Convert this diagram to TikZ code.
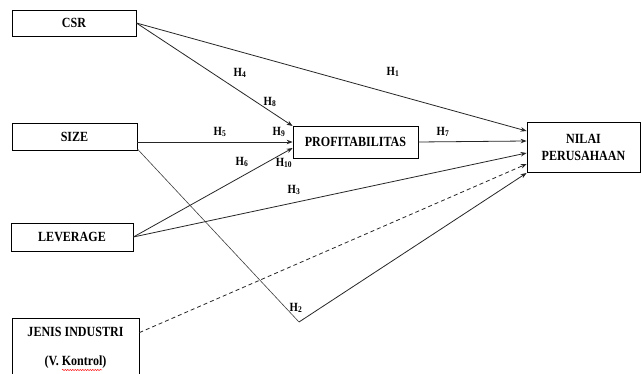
\documentclass[tikz,border=0pt]{standalone}
\usepackage{fontspec}
\setmainfont{Liberation Serif}
\newfontfamily\condfont[FakeStretch=0.86]{Liberation Serif}
\usetikzlibrary{arrows.meta,decorations.pathmorphing}
\begin{document}
\begin{tikzpicture}[x=1pt,y=-1pt,
  box/.style={draw, line width=0.8pt, inner sep=0pt, align=center,
    font=\condfont\fontsize{14}{20}\selectfont\bfseries},
  txt/.style={font=\condfont\fontsize{14}{16}\selectfont\bfseries, inner sep=0pt},
  con/.style={line width=0.8pt, draw=black!85, -{Stealth[length=6pt,width=4.5pt]}},
  hlab/.style={font=\condfont\fontsize{12.5}{13}\selectfont\bfseries, inner sep=0pt}]
\useasboundingbox (0,0) rectangle (641,374);
\clip (0,0) rectangle (641,374);
\fill[white] (0,0) rectangle (641,374);
% boxes
\node[box, minimum width=124pt, minimum height=26pt] (csr) at (74,23) {CSR};
\node[box, minimum width=125pt, minimum height=27pt] (size) at (74.5,136.5) {SIZE};
\node[box, minimum width=122pt, minimum height=28pt] (lev) at (72,237) {LEVERAGE};
\node[box, minimum width=125pt, minimum height=32pt] (prof) at (355.5,142) {PROFITABILITAS};
\node[box, minimum width=113pt, minimum height=50pt, font=\condfont\fontsize{14}{17}\selectfont\bfseries] (nilai) at (583.5,147) {NILAI\\PERUSAHAAN};
\node[box, minimum width=127pt, minimum height=80pt] (jenis) at (75.5,358) {};
\node[txt] (jt1) at (75.5,332) {JENIS INDUSTRI};
\node[txt] (jt2) at (75.5,362) {(V. Kontrol)};
\draw[red, line width=0.5pt, decorate, decoration={snake, amplitude=0.6pt, segment length=2.5pt}]
  (62,370) -- (102,370);
% coordinates
\coordinate (v) at (299,322);
\coordinate (s2) at ([yshift=-7pt]size.east |- prof.west);
% connectors
\draw[con] (csr.east) -- ([yshift=16pt]nilai.west);
\draw[con] (csr.east) -- ([yshift=16pt]prof.west);
\draw[con] (size.east |- prof.west) -- (prof.west);
\draw[con] (lev.east) -- ([yshift=-6pt]prof.west);
\draw[con] (prof.east) -- ([yshift=6pt]nilai.west);
\draw[con] (lev.east) -- ([yshift=-6pt]nilai.west);
\draw[con, dash pattern=on 4pt off 3pt] ([yshift=-15pt]jenis.north east) -- ([yshift=-17pt]nilai.west);
\draw[line width=0.6pt, draw=black!75] (s2) -- (v);
\draw[con] (v) -- ([yshift=-26pt]nilai.west);
% labels
\node[hlab] (h1) at (393,72) {H\textsubscript{1}};
\node[hlab] (h4) at (240,73) {H\textsubscript{4}};
\node[hlab] (h8) at (270,102) {H\textsubscript{8}};
\node[hlab] (h9) at (279,132) {H\textsubscript{9}};
\node[hlab] (h5) at (220,132) {H\textsubscript{5}};
\node[hlab] (h6) at (242,162) {H\textsubscript{6}};
\node[hlab] (h10) at (284,163) {H\textsubscript{10}};
\node[hlab] (h7) at (443,132) {H\textsubscript{7}};
\node[hlab] (h3) at (294,190) {H\textsubscript{3}};
\node[hlab] (h2) at (296,308) {H\textsubscript{2}};
\end{tikzpicture}
\end{document}
